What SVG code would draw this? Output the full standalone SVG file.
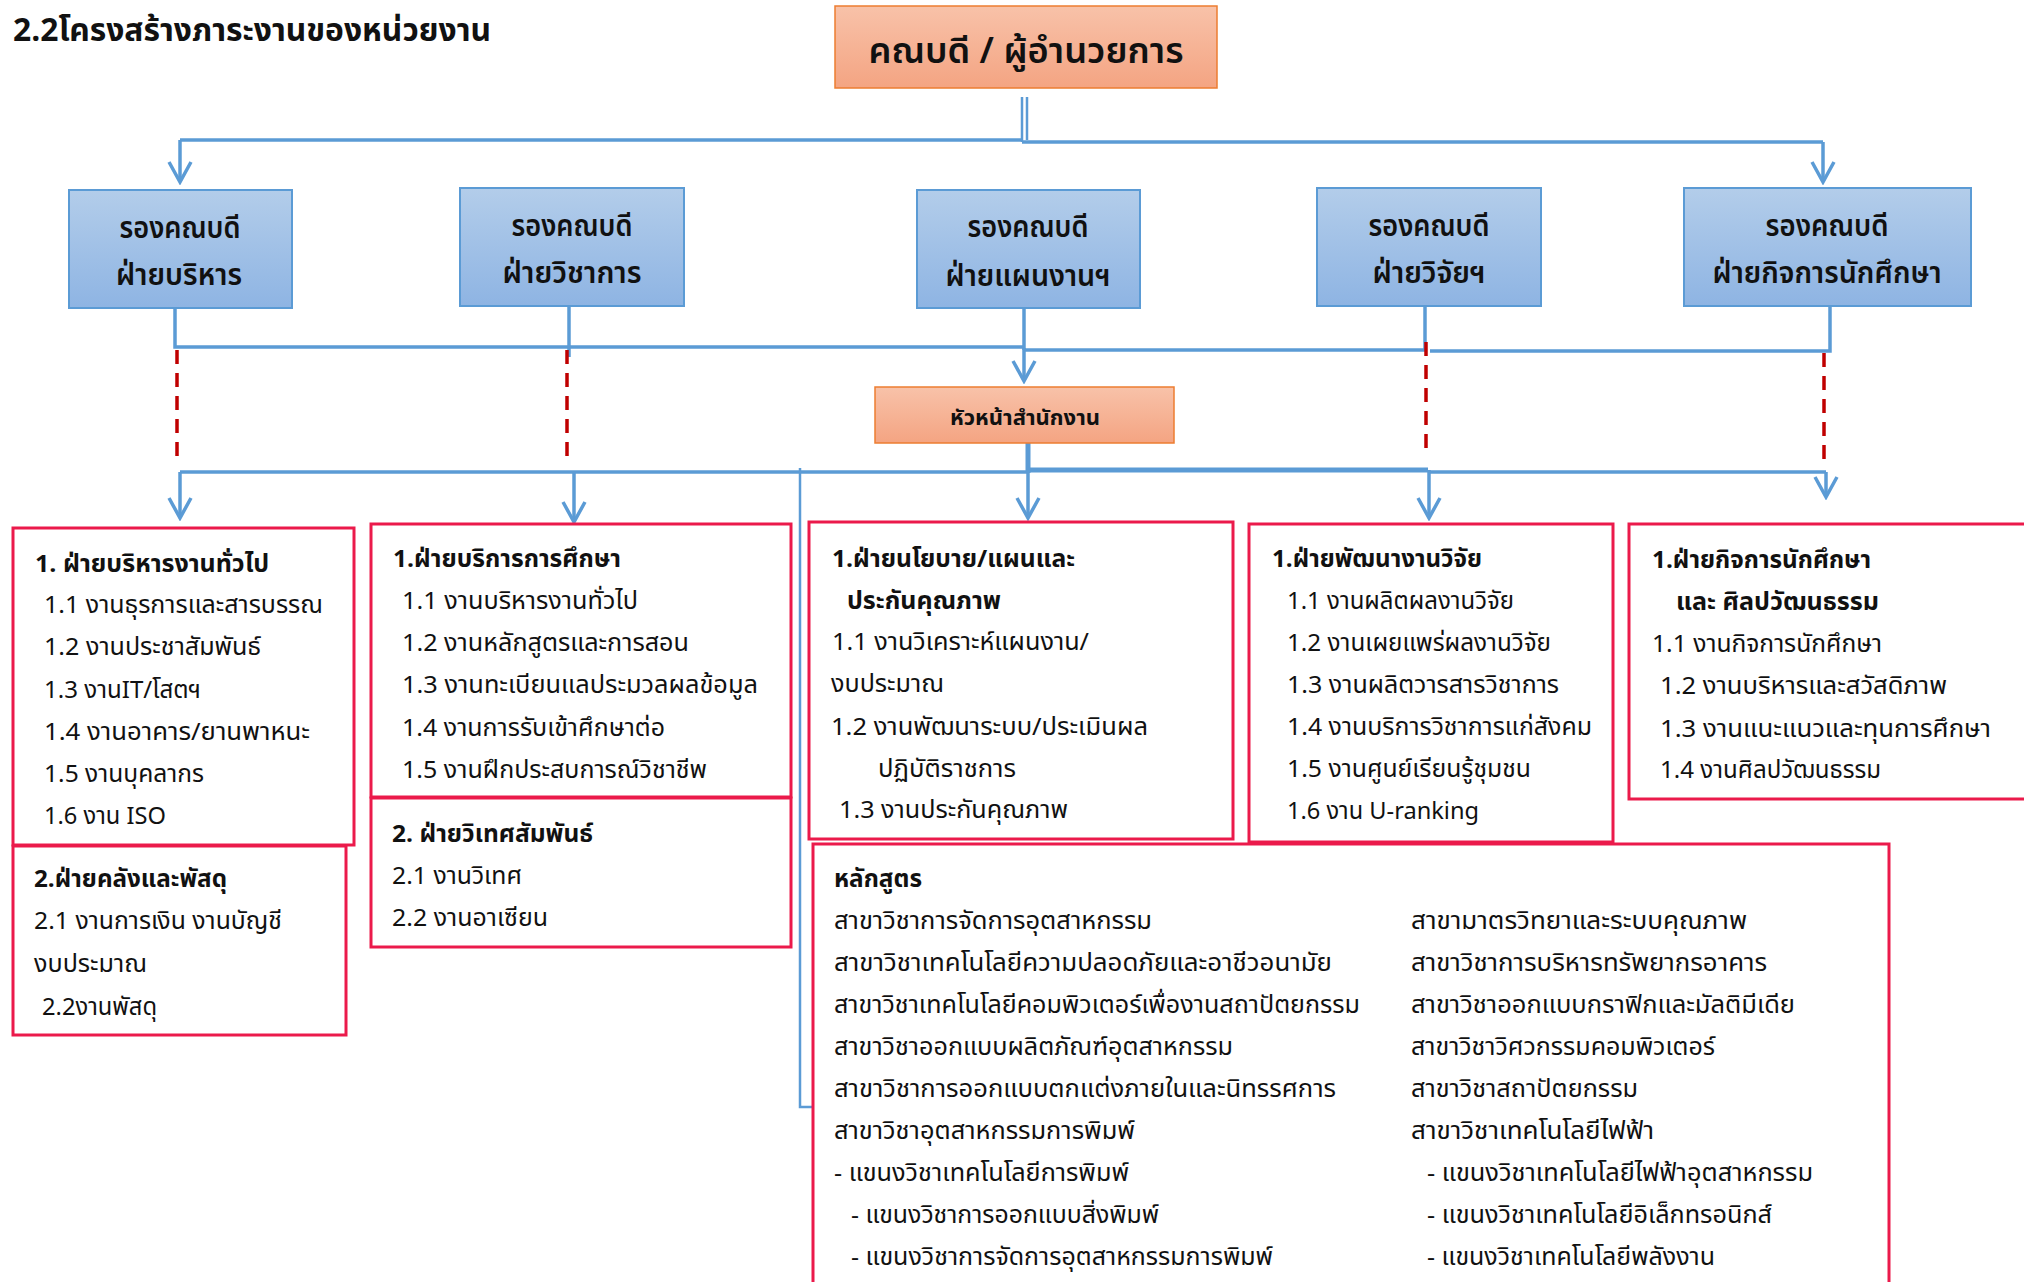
<svg xmlns="http://www.w3.org/2000/svg" width="2024" height="1282" viewBox="0 0 2024 1282">
<defs>
<linearGradient id="gOr" x1="0" y1="0" x2="0" y2="1"><stop offset="0" stop-color="#F8C2A9"/><stop offset="1" stop-color="#F4A482"/></linearGradient>
<linearGradient id="gBl" x1="0" y1="0" x2="0" y2="1"><stop offset="0" stop-color="#B3CDEA"/><stop offset="1" stop-color="#8EB4E3"/></linearGradient>
<marker id="ah" markerUnits="userSpaceOnUse" markerWidth="26" markerHeight="28" viewBox="-23 -14 26 28" refX="0" refY="0" orient="auto">
<path d="M -20,-11 L 0,0 L -20,11" fill="none" stroke="#5B9BD5" stroke-width="3.5"/>
</marker>
<style>
.t{font-family:"Noto Sans Thai","Noto Sans","Liberation Sans",sans-serif;fill:#111}
.n{font-size:24px}
.b{font-size:24px;font-weight:bold}
.bx{font-size:31px;font-weight:600;text-anchor:middle}
.or{fill:url(#gOr);stroke:#ED7D31;stroke-width:1.5}
.bl{fill:url(#gBl);stroke:#5B9BD5;stroke-width:2}
.rd{fill:#fff;stroke:#EB1A4B;stroke-width:3}
.ln{fill:none;stroke:#5B9BD5;stroke-width:3.5}
.lt{fill:none;stroke:#5B9BD5;stroke-width:5}
.th{fill:none;stroke:#5B9BD5;stroke-width:2.5}
.ar{fill:none;stroke:#5B9BD5;stroke-width:3.5;marker-end:url(#ah)}
.ds{fill:none;stroke:#C00000;stroke-width:3.5;stroke-dasharray:14 9}
</style>
</defs>
<rect width="2024" height="1282" fill="#fff"/>
<text class="t" x="13" y="41" font-size="32" font-weight="bold" textLength="478" lengthAdjust="spacingAndGlyphs">2.2โครงสร้างภาระงานของหน่วยงาน</text>

<g id="connectors">
<line class="th" x1="1022" y1="97" x2="1022" y2="142"/>
<line class="th" x1="1027" y1="97" x2="1027" y2="140"/>
<polyline class="ln" points="180,140 1022,140"/>
<polyline class="ln" points="1022,142 1823,142"/>
<line class="ar" x1="180" y1="140" x2="180" y2="182"/>
<line class="ar" x1="1823" y1="142" x2="1823" y2="182"/>
<polyline class="ln" points="175,308 175,347 1024,347"/>
<line class="ln" x1="569" y1="306" x2="569" y2="357"/>
<line class="ln" x1="1024" y1="308" x2="1024" y2="350"/>
<polyline class="ln" points="1024,350 1425,350"/>
<line class="ln" x1="1425" y1="306" x2="1425" y2="351"/>
<polyline class="ln" points="1430,351 1830,351 1830,306"/>
<line class="ar" x1="1024" y1="348" x2="1024" y2="381"/>
<line class="ds" x1="177" y1="350" x2="177" y2="460"/>
<line class="ds" x1="567" y1="350" x2="567" y2="460"/>
<line class="ds" x1="1426" y1="342" x2="1426" y2="452"/>
<line class="ds" x1="1824" y1="353" x2="1824" y2="463"/>
<line class="lt" x1="1028" y1="443" x2="1028" y2="473"/>
<polyline class="ln" points="180,472 1028,472"/>
<polyline class="lt" points="1028,470 1428,470"/>
<polyline class="ln" points="1428,472 1826,472"/>
<line class="ar" x1="180" y1="472" x2="180" y2="518"/>
<line class="ar" x1="574" y1="472" x2="574" y2="522"/>
<line class="ar" x1="1028" y1="472" x2="1028" y2="518"/>
<line class="ar" x1="1429" y1="470" x2="1429" y2="518"/>
<line class="ar" x1="1826" y1="472" x2="1826" y2="497"/>
<polyline class="th" points="800,468 800,1107 815,1107"/>
</g>

<g id="dean">
<rect class="or" x="835" y="6" width="382" height="82"/>
<text class="t" x="1026" y="63" font-size="36" font-weight="600" text-anchor="middle" textLength="315" lengthAdjust="spacingAndGlyphs">คณบดี / ผู้อำนวยการ</text>
</g>

<g id="vp-admin">
<rect class="bl" x="69" y="190" width="223" height="118"/>
<text class="t bx" x="180" y="238" textLength="121" lengthAdjust="spacingAndGlyphs">รองคณบดี</text>
<text class="t bx" x="179" y="285" textLength="126" lengthAdjust="spacingAndGlyphs">ฝ่ายบริหาร</text>
</g>
<g id="vp-academic">
<rect class="bl" x="460" y="188" width="224" height="118"/>
<text class="t bx" x="572" y="236" textLength="121" lengthAdjust="spacingAndGlyphs">รองคณบดี</text>
<text class="t bx" x="572" y="283" textLength="139" lengthAdjust="spacingAndGlyphs">ฝ่ายวิชาการ</text>
</g>
<g id="vp-plan">
<rect class="bl" x="917" y="190" width="223" height="118"/>
<text class="t bx" x="1028" y="237" textLength="121" lengthAdjust="spacingAndGlyphs">รองคณบดี</text>
<text class="t bx" x="1028" y="286" textLength="165" lengthAdjust="spacingAndGlyphs">ฝ่ายแผนงานฯ</text>
</g>
<g id="vp-research">
<rect class="bl" x="1317" y="188" width="224" height="118"/>
<text class="t bx" x="1429" y="236" textLength="121" lengthAdjust="spacingAndGlyphs">รองคณบดี</text>
<text class="t bx" x="1429" y="283" textLength="113" lengthAdjust="spacingAndGlyphs">ฝ่ายวิจัยฯ</text>
</g>
<g id="vp-student">
<rect class="bl" x="1684" y="188" width="287" height="118"/>
<text class="t bx" x="1827" y="236" textLength="123" lengthAdjust="spacingAndGlyphs">รองคณบดี</text>
<text class="t bx" x="1827" y="283" textLength="229" lengthAdjust="spacingAndGlyphs">ฝ่ายกิจการนักศึกษา</text>
</g>

<g id="office-head">
<rect class="or" x="875" y="387" width="299" height="56"/>
<text class="t" x="1025" y="425" font-size="22" font-weight="bold" text-anchor="middle" textLength="150" lengthAdjust="spacingAndGlyphs">หัวหน้าสำนักงาน</text>
</g>

<g id="general-admin">
<rect class="rd" x="13" y="528" width="341" height="317"/>
<text class="t b" x="35" y="572" textLength="234" lengthAdjust="spacingAndGlyphs">1. ฝ่ายบริหารงานทั่วไป</text>
<text class="t n" x="44" y="613" textLength="279" lengthAdjust="spacingAndGlyphs">1.1 งานธุรการและสารบรรณ</text>
<text class="t n" x="44" y="655" textLength="217" lengthAdjust="spacingAndGlyphs">1.2 งานประชาสัมพันธ์</text>
<text class="t n" x="44" y="698" textLength="157" lengthAdjust="spacingAndGlyphs">1.3 งานIT/โสตฯ</text>
<text class="t n" x="44" y="740" textLength="266" lengthAdjust="spacingAndGlyphs">1.4 งานอาคาร/ยานพาหนะ</text>
<text class="t n" x="44" y="782" textLength="160" lengthAdjust="spacingAndGlyphs">1.5 งานบุคลากร</text>
<text class="t n" x="44" y="824" textLength="122" lengthAdjust="spacingAndGlyphs">1.6 งาน ISO</text>
</g>
<g id="finance">
<rect class="rd" x="13" y="846" width="333" height="189"/>
<text class="t b" x="34" y="887" textLength="193" lengthAdjust="spacingAndGlyphs">2.ฝ่ายคลังและพัสดุ</text>
<text class="t n" x="34" y="929" textLength="248" lengthAdjust="spacingAndGlyphs">2.1 งานการเงิน งานบัญชี</text>
<text class="t n" x="34" y="972" textLength="113" lengthAdjust="spacingAndGlyphs">งบประมาณ</text>
<text class="t n" x="42" y="1015" textLength="115" lengthAdjust="spacingAndGlyphs">2.2งานพัสดุ</text>
</g>

<g id="edu-service">
<rect class="rd" x="371" y="524" width="420" height="273"/>
<text class="t b" x="393" y="567" textLength="228" lengthAdjust="spacingAndGlyphs">1.ฝ่ายบริการการศึกษา</text>
<text class="t n" x="402" y="609" textLength="236" lengthAdjust="spacingAndGlyphs">1.1 งานบริหารงานทั่วไป</text>
<text class="t n" x="402" y="651" textLength="287" lengthAdjust="spacingAndGlyphs">1.2 งานหลักสูตรและการสอน</text>
<text class="t n" x="402" y="693" textLength="356" lengthAdjust="spacingAndGlyphs">1.3 งานทะเบียนแลประมวลผลข้อมูล</text>
<text class="t n" x="402" y="736" textLength="263" lengthAdjust="spacingAndGlyphs">1.4 งานการรับเข้าศึกษาต่อ</text>
<text class="t n" x="402" y="778" textLength="305" lengthAdjust="spacingAndGlyphs">1.5 งานฝึกประสบการณ์วิชาชีพ</text>
</g>
<g id="foreign">
<rect class="rd" x="371" y="798" width="420" height="149"/>
<text class="t b" x="392" y="842" textLength="201" lengthAdjust="spacingAndGlyphs">2. ฝ่ายวิเทศสัมพันธ์</text>
<text class="t n" x="392" y="884" textLength="130" lengthAdjust="spacingAndGlyphs">2.1 งานวิเทศ</text>
<text class="t n" x="392" y="926" textLength="156" lengthAdjust="spacingAndGlyphs">2.2 งานอาเซียน</text>
</g>

<g id="policy">
<rect class="rd" x="809" y="522" width="424" height="317"/>
<text class="t b" x="832" y="567" textLength="243" lengthAdjust="spacingAndGlyphs">1.ฝ่ายนโยบาย/แผนและ</text>
<text class="t b" x="847" y="609" textLength="154" lengthAdjust="spacingAndGlyphs">ประกันคุณภาพ</text>
<text class="t n" x="832" y="650" textLength="257" lengthAdjust="spacingAndGlyphs">1.1 งานวิเคราะห์แผนงาน/</text>
<text class="t n" x="831" y="692" textLength="113" lengthAdjust="spacingAndGlyphs">งบประมาณ</text>
<text class="t n" x="831" y="735" textLength="317" lengthAdjust="spacingAndGlyphs">1.2 งานพัฒนาระบบ/ประเมินผล</text>
<text class="t n" x="878" y="777" textLength="138" lengthAdjust="spacingAndGlyphs">ปฏิบัติราชการ</text>
<text class="t n" x="839" y="818" textLength="229" lengthAdjust="spacingAndGlyphs">1.3 งานประกันคุณภาพ</text>
</g>

<g id="research">
<rect class="rd" x="1249" y="524" width="364" height="318"/>
<text class="t b" x="1272" y="567" textLength="210" lengthAdjust="spacingAndGlyphs">1.ฝ่ายพัฒนางานวิจัย</text>
<text class="t n" x="1287" y="609" textLength="227" lengthAdjust="spacingAndGlyphs">1.1 งานผลิตผลงานวิจัย</text>
<text class="t n" x="1287" y="651" textLength="264" lengthAdjust="spacingAndGlyphs">1.2 งานเผยแพร่ผลงานวิจัย</text>
<text class="t n" x="1287" y="693" textLength="272" lengthAdjust="spacingAndGlyphs">1.3 งานผลิตวารสารวิชาการ</text>
<text class="t n" x="1287" y="735" textLength="305" lengthAdjust="spacingAndGlyphs">1.4 งานบริการวิชาการแก่สังคม</text>
<text class="t n" x="1287" y="777" textLength="244" lengthAdjust="spacingAndGlyphs">1.5 งานศูนย์เรียนรู้ชุมชน</text>
<text class="t n" x="1287" y="819" textLength="192" lengthAdjust="spacingAndGlyphs">1.6 งาน U-ranking</text>
</g>

<g id="student">
<rect class="rd" x="1629" y="524" width="410" height="275"/>
<text class="t b" x="1652" y="568" textLength="219" lengthAdjust="spacingAndGlyphs">1.ฝ่ายกิจการนักศึกษา</text>
<text class="t b" x="1676" y="610" textLength="203" lengthAdjust="spacingAndGlyphs">และ ศิลปวัฒนธรรม</text>
<text class="t n" x="1652" y="652" textLength="230" lengthAdjust="spacingAndGlyphs">1.1 งานกิจการนักศึกษา</text>
<text class="t n" x="1660" y="694" textLength="287" lengthAdjust="spacingAndGlyphs">1.2 งานบริหารและสวัสดิภาพ</text>
<text class="t n" x="1660" y="737" textLength="331" lengthAdjust="spacingAndGlyphs">1.3 งานแนะแนวและทุนการศึกษา</text>
<text class="t n" x="1660" y="778" textLength="221" lengthAdjust="spacingAndGlyphs">1.4 งานศิลปวัฒนธรรม</text>
</g>

<g id="curriculum">
<rect class="rd" x="813" y="844" width="1076" height="460"/>
<text class="t b" x="834" y="887" textLength="88" lengthAdjust="spacingAndGlyphs">หลักสูตร</text>
<text class="t n" x="834" y="929" textLength="318" lengthAdjust="spacingAndGlyphs">สาขาวิชาการจัดการอุตสาหกรรม</text>
<text class="t n" x="834" y="971" textLength="498" lengthAdjust="spacingAndGlyphs">สาขาวิชาเทคโนโลยีความปลอดภัยและอาชีวอนามัย</text>
<text class="t n" x="834" y="1013" textLength="526" lengthAdjust="spacingAndGlyphs">สาขาวิชาเทคโนโลยีคอมพิวเตอร์เพื่องานสถาปัตยกรรม</text>
<text class="t n" x="834" y="1055" textLength="399" lengthAdjust="spacingAndGlyphs">สาขาวิชาออกแบบผลิตภัณฑ์อุตสาหกรรม</text>
<text class="t n" x="834" y="1097" textLength="502" lengthAdjust="spacingAndGlyphs">สาขาวิชาการออกแบบตกแต่งภายในและนิทรรศการ</text>
<text class="t n" x="834" y="1139" textLength="301" lengthAdjust="spacingAndGlyphs">สาขาวิชาอุตสาหกรรมการพิมพ์</text>
<text class="t n" x="834" y="1181" textLength="295" lengthAdjust="spacingAndGlyphs">- แขนงวิชาเทคโนโลยีการพิมพ์</text>
<text class="t n" x="851" y="1223" textLength="308" lengthAdjust="spacingAndGlyphs">- แขนงวิชาการออกแบบสิ่งพิมพ์</text>
<text class="t n" x="851" y="1265" textLength="422" lengthAdjust="spacingAndGlyphs">- แขนงวิชาการจัดการอุตสาหกรรมการพิมพ์</text>
<text class="t n" x="1411" y="929" textLength="336" lengthAdjust="spacingAndGlyphs">สาขามาตรวิทยาและระบบคุณภาพ</text>
<text class="t n" x="1411" y="971" textLength="356" lengthAdjust="spacingAndGlyphs">สาขาวิชาการบริหารทรัพยากรอาคาร</text>
<text class="t n" x="1411" y="1013" textLength="384" lengthAdjust="spacingAndGlyphs">สาขาวิชาออกแบบกราฟิกและมัลติมีเดีย</text>
<text class="t n" x="1411" y="1055" textLength="304" lengthAdjust="spacingAndGlyphs">สาขาวิชาวิศวกรรมคอมพิวเตอร์</text>
<text class="t n" x="1411" y="1097" textLength="227" lengthAdjust="spacingAndGlyphs">สาขาวิชาสถาปัตยกรรม</text>
<text class="t n" x="1411" y="1139" textLength="243" lengthAdjust="spacingAndGlyphs">สาขาวิชาเทคโนโลยีไฟฟ้า</text>
<text class="t n" x="1427" y="1181" textLength="386" lengthAdjust="spacingAndGlyphs">- แขนงวิชาเทคโนโลยีไฟฟ้าอุตสาหกรรม</text>
<text class="t n" x="1427" y="1223" textLength="345" lengthAdjust="spacingAndGlyphs">- แขนงวิชาเทคโนโลยีอิเล็กทรอนิกส์</text>
<text class="t n" x="1427" y="1265" textLength="288" lengthAdjust="spacingAndGlyphs">- แขนงวิชาเทคโนโลยีพลังงาน</text>
</g>
</svg>
